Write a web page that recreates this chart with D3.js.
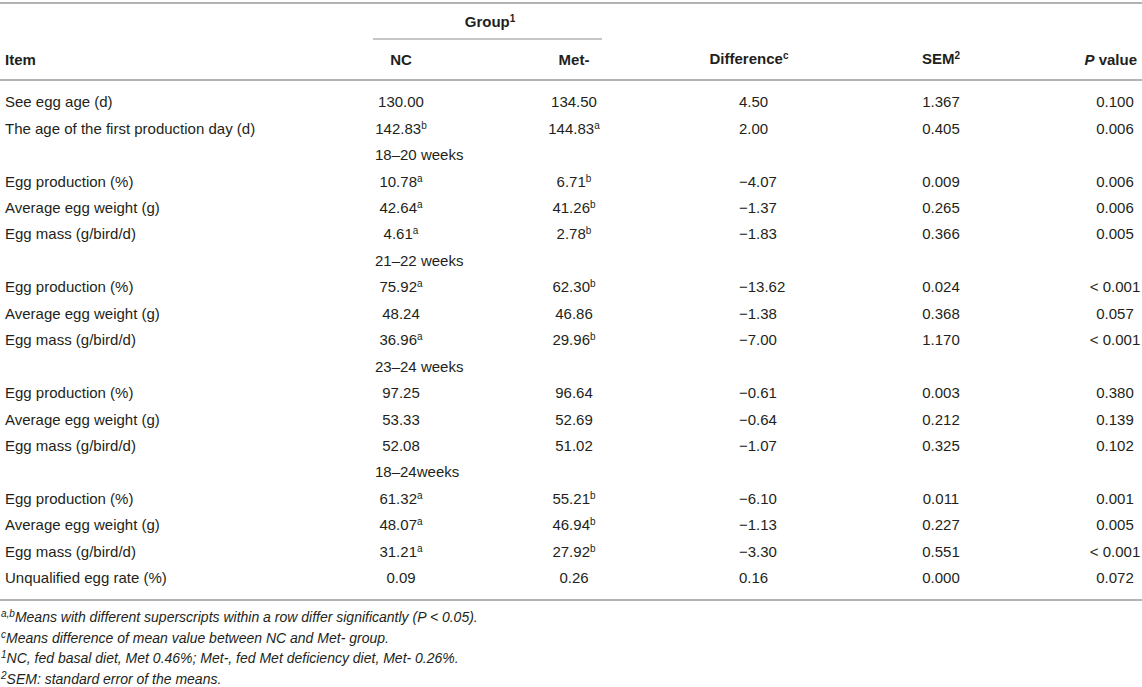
<!DOCTYPE html>
<html>
<head>
<meta charset="utf-8">
<script src="https://cdn.jsdelivr.net/npm/d3@7"></script>
<style>
  html, body { margin: 0; padding: 0; background: #fff; }
  svg text { font-family: "Liberation Sans", Arial, sans-serif; fill: #231f20; }
</style>
</head>
<body>
<div id="table"></div>
<script>
// row labels of the Item column; period rows carry their label in the NC column instead
const itemLabels = [
    "See egg age (d)", "The age of the first production day (d)", "",
    "Egg production (%)", "Average egg weight (g)", "Egg mass (g/bird/d)", "",
    "Egg production (%)", "Average egg weight (g)", "Egg mass (g/bird/d)", "",
    "Egg production (%)", "Average egg weight (g)", "Egg mass (g/bird/d)", "",
    "Egg production (%)", "Average egg weight (g)", "Egg mass (g/bird/d)",
    "Unqualified egg rate (%)"
];
// index of the period rows and their labels
const periodRows = [2, 6, 10, 14];
const periodLabels = ["18–20 weeks", "21–22 weeks", "23–24 weeks", "18–24weeks"];

const ncValues = [130.00, 142.83, null, 10.78, 42.64, 4.61, null, 75.92, 48.24, 36.96, null, 97.25, 53.33, 52.08, null, 61.32, 48.07, 31.21, 0.09];
const ncSup = ["", "b", "", "a", "a", "a", "", "a", "", "a", "", "", "", "", "", "a", "a", "a", ""];
const metValues = [134.50, 144.83, null, 6.71, 41.26, 2.78, null, 62.30, 46.86, 29.96, null, 96.64, 52.69, 51.02, null, 55.21, 46.94, 27.92, 0.26];
const metSup = ["", "a", "", "b", "b", "b", "", "b", "", "b", "", "", "", "", "", "b", "b", "b", ""];
const diffValues = [4.50, 2.00, null, -4.07, -1.37, -1.83, null, -13.62, -1.38, -7.00, null, -0.61, -0.64, -1.07, null, -6.10, -1.13, -3.30, 0.16];
const semValues = [1.367, 0.405, null, 0.009, 0.265, 0.366, null, 0.024, 0.368, 1.170, null, 0.003, 0.212, 0.325, null, 0.011, 0.227, 0.551, 0.000];
const pValues = ["0.100", "0.006", "", "0.006", "0.006", "0.005", "", "< 0.001", "0.057", "< 0.001", "", "0.380", "0.139", "0.102", "", "0.001", "0.005", "< 0.001", "0.072"];

const footnotes = [
    {sup: "a,b", text: "Means with different superscripts within a row differ significantly (P < 0.05)."},
    {sup: "c", text: "Means difference of mean value between NC and Met- group."},
    {sup: "1", text: "NC, fed basal diet, Met 0.46%; Met-, fed Met deficiency diet, Met- 0.26%."},
    {sup: "2", text: "SEM: standard error of the means."}
];

const width = 1142, height = 687;
const fontSize = 15;
const ruleColor = "#b3b3b3";

const svg = d3.select("#table")
    .append("svg")
    .attr("width", width)
    .attr("height", height);

// column anchors
const col = {
    item: 5,
    nc: 401,
    met: 574,
    diff: 739,
    sem: 941,
    p: 1115,
    period: 375
};

// rows are laid out along a point scale
const y = d3.scalePoint()
    .domain(d3.range(itemLabels.length))
    .range([102, 578]);

const fmt2 = d3.format(".2f"),
    fmt3 = d3.format(".3f");

// helper for text with an optional superscript
function addText(g, x, yy, main, sup, opts = {}) {
    const t = g.append("text")
        .attr("x", x)
        .attr("y", yy)
        .attr("dy", "0.35em")
        .style("font-size", (opts.size || fontSize) + "px")
        .style("font-weight", opts.bold ? "bold" : null)
        .style("font-style", opts.italic ? "italic" : null)
        .attr("text-anchor", opts.anchor || "start");
    if (opts.supFirst && sup) {
        t.append("tspan").attr("baseline-shift", "super").style("font-size", "10px").text(sup);
    }
    t.append("tspan").text(main);
    if (!opts.supFirst && sup) {
        t.append("tspan").attr("baseline-shift", "super").style("font-size", "10px").text(sup);
    }
    return t;
}

// rules
const rule = (x1, x2, yy, w) => svg.append("line")
    .attr("x1", x1).attr("x2", x2).attr("y1", yy).attr("y2", yy)
    .attr("stroke", ruleColor).attr("stroke-width", w);
rule(0, width, 3, 2);
rule(373, 602, 39, 1.5);
rule(0, width, 80, 2);
rule(0, width, 600, 2);

// header
const head = svg.append("g");
addText(head, 490, 22, "Group", "1", {bold: true, anchor: "middle"});
addText(head, col.item, 60, "Item", "", {bold: true});
addText(head, col.nc, 60, "NC", "", {bold: true, anchor: "middle"});
addText(head, col.met, 60, "Met-", "", {bold: true, anchor: "middle"});
addText(head, 749, 59, "Difference", "c", {bold: true, anchor: "middle"});
addText(head, col.sem, 59, "SEM", "2", {bold: true, anchor: "middle"});
const pHead = head.append("text")
    .attr("x", 1137).attr("y", 60).attr("dy", "0.35em")
    .attr("text-anchor", "end")
    .style("font-size", fontSize + "px").style("font-weight", "bold");
pHead.append("tspan").style("font-style", "italic").text("P");
pHead.append("tspan").text(" value");

// body rows
const body = svg.append("g");
itemLabels.forEach((label, i) => {
    const yy = y(i);
    const p = periodRows.indexOf(i);
    if (p >= 0) {
        addText(body, col.period, yy, periodLabels[p], "");
        return;
    }
    addText(body, col.item, yy, label, "");
    addText(body, col.nc, yy, fmt2(ncValues[i]), ncSup[i], {anchor: "middle"});
    addText(body, col.met, yy, fmt2(metValues[i]), metSup[i], {anchor: "middle"});
    addText(body, col.diff, yy, fmt2(diffValues[i]), "");
    addText(body, col.sem, yy, fmt3(semValues[i]), "", {anchor: "middle"});
    addText(body, col.p, yy, pValues[i], "", {anchor: "middle"});
});

// footnotes
const notes = svg.append("g");
footnotes.forEach((f, i) => {
    addText(notes, 1, 617 + i * 20.7, f.text, f.sup, {size: 14, italic: true, supFirst: true});
});
</script>
</body>
</html>
